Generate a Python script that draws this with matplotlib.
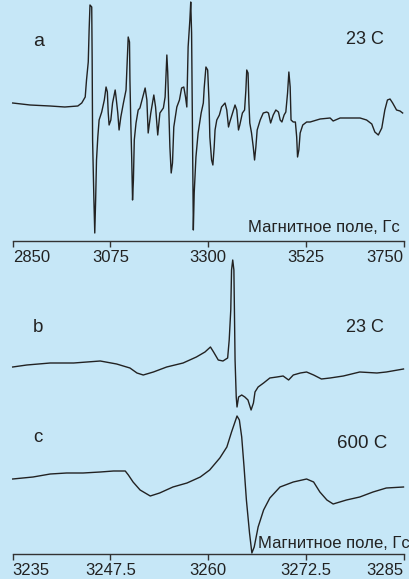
import matplotlib
matplotlib.use("Agg")
import matplotlib.pyplot as plt

# EPR spectra, field in G, intensity in arbitrary units
# panel a: wide sweep, 23 C
field_a = [2850, 2890, 2936, 2970, 3000, 3009, 3017, 3020, 3024, 3026, 3028, 3032,
           3033, 3034, 3037, 3039, 3041, 3043, 3046, 3049, 3055, 3061, 3065, 3068,
           3070, 3072, 3076, 3080, 3086, 3088, 3092, 3095, 3099, 3105, 3111, 3114,
           3116, 3119, 3120, 3122, 3124, 3126, 3128, 3130, 3134, 3139, 3143, 3155,
           3159, 3162, 3168, 3175, 3179, 3184, 3189, 3197, 3201, 3203, 3205, 3207,
           3210, 3212, 3215, 3218, 3221, 3228, 3234, 3239, 3244, 3248, 3251, 3254,
           3258, 3260, 3262, 3265, 3266, 3268, 3272, 3277, 3284, 3289, 3291, 3295,
           3299, 3302, 3304, 3308, 3311, 3314, 3316, 3320, 3326, 3331, 3339, 3343,
           3347, 3350, 3357, 3362, 3366, 3370, 3373, 3379, 3384, 3387, 3389, 3392,
           3394, 3396, 3400, 3404, 3407, 3410, 3413, 3420, 3427, 3435, 3439, 3444,
           3450, 3456, 3462, 3466, 3470, 3475, 3479, 3483, 3486, 3489, 3491, 3496,
           3501, 3504, 3506, 3509, 3512, 3518, 3527, 3535, 3558, 3581, 3588, 3604,
           3627, 3650, 3665, 3677, 3684, 3692, 3700, 3707, 3713, 3719, 3725, 3734,
           3742, 3748]
signal_a = [1, -1, -2, -3, -2, 1, 7, 24, 42, 74, 99, 97,
            44, -36, -96, -129, -96, -56, -33, -16, -8, 4, 17, 12,
            -9, -21, -16, 1, 14, 7, -9, -26, -13, 1, 14, 47,
            67, 62, 24, -19, -53, -96, -76, -36, -19, -6, -4, 16,
            4, -29, -9, 9, -3, -31, -9, -4, 7, 27, 49, 32,
            -13, -43, -69, -59, -23, -3, 4, 16, 17, 7, -3, 57,
            84, 102, 71, -86, -126, -89, -53, -29, -9, 1, 16, 37,
            34, 4, -33, -56, -61, -43, -26, -16, -11, -3, 1, -6,
            -23, -18, -8, -1, -6, -26, -21, -9, -6, 14, 34, 31,
            1, -19, -29, -43, -56, -43, -26, -16, -9, -8, -9, -19,
            -11, -6, -8, -16, -18, -11, -8, 11, 32, 17, -16, -18,
            -18, -33, -53, -46, -29, -21, -18, -18, -15, -14, -17, -14,
            -14, -14, -16, -20, -28, -31, -24, -6, 4, 5, 1, -6,
            -7, -9]

# panel b: narrow sweep, 23 C
field_b = [3235.0, 3236.8, 3239.8, 3242.8, 3246.2, 3248.3, 3250.0, 3250.9, 3251.7,
           3253.0, 3254.7, 3256.8, 3258.5, 3259.6, 3260.3, 3260.7, 3261.3, 3261.9,
           3262.5, 3262.7, 3262.9, 3263.0, 3263.15, 3263.3, 3263.45, 3263.6, 3263.7,
           3263.9, 3264.3, 3264.7, 3265.1, 3265.5, 3265.8, 3266.0, 3266.4, 3267.1,
           3267.9, 3268.8, 3269.6, 3270.3, 3270.9, 3271.8, 3272.6, 3273.5, 3274.5,
           3275.6, 3277.3, 3279.4, 3281.6, 3282.8, 3285.0]
signal_b = [-1, 1, 3, 3, 5, 2, -2, -7, -9,
            -6, -1, 3, 9, 14, 19, 14, 6, 5,
            8, 26, 56, 96, 106, 96, 6, -31, -41,
            -31, -29, -31, -34, -44, -37, -26, -21, -17,
            -12, -11, -10, -14, -9, -7, -6, -9, -13,
            -12, -10, -6, -7, -6, -3]

# panel c: narrow sweep, 600 C
field_c = [3235.0, 3237.6, 3239.8, 3241.9, 3244.0, 3246.2, 3247.9, 3249.4, 3249.8,
           3250.4, 3251.3, 3252.6, 3253.8, 3255.5, 3257.3, 3259.0, 3260.2, 3261.5,
           3262.4, 3263.0, 3263.7, 3264.0, 3264.3, 3264.6, 3264.9, 3265.3, 3265.6,
           3265.9, 3266.4, 3267.1, 3267.9, 3269.2, 3270.9, 3272.6, 3273.5, 3274.3,
           3275.2, 3276.0, 3277.7, 3279.4, 3281.1, 3282.8, 3285.0]
signal_c = [0, 2, 5, 6, 6, 7, 8, 8, 4,
            -3, -11, -17, -14, -8, -4, 2, 9, 21,
            32, 47, 63, 59, 42, 12, -21, -54, -74,
            -68, -48, -31, -19, -8, -3, 0, -3, -13,
            -21, -25, -21, -18, -13, -9, -8]

ticks_top = [2850, 3075, 3300, 3525, 3750]
ticks_bottom = [3235, 3247.5, 3260, 3272.5, 3285]
tick_labels_bottom = ["3235", "3247.5", "3260", "3272.5", "3285"]
field_label = "Магнитное поле, Гс"

BG = "#c6e7f7"
INK = "#222222"
W, H = 409, 579

plt.rcParams["font.family"] = ["Liberation Sans", "DejaVu Sans"]

fig = plt.figure(figsize=(W / 100, H / 100), dpi=100, facecolor=BG)


def px(x, y):
    return x / W, 1 - y / H


def style_axis(ax, ticks, labels):
    ax.set_facecolor("none")
    for s in ("left", "right", "top"):
        ax.spines[s].set_visible(False)
    ax.spines["bottom"].set_color("#333333")
    ax.spines["bottom"].set_linewidth(1.0)
    ax.set_yticks([])
    ax.set_xticks(ticks)
    ax.set_xticklabels(labels)
    ax.tick_params(axis="x", direction="out", length=4, width=1, color="#333333",
                   labelsize=12, labelcolor=INK, pad=2.5)
    tl = ax.get_xticklabels()
    tl[0].set_horizontalalignment("left")
    tl[-1].set_horizontalalignment("right")


# top panel
ax1 = fig.add_axes([12.7 / W, 1 - 240.5 / H, 390.8 / W, 240.5 / H])
ax1.plot(field_a, signal_a, color=INK, lw=1.0, clip_on=False)
ax1.set_xlim(2850, 3750)
ax1.set_ylim(-136.5, 104)
style_axis(ax1, ticks_top, [str(t) for t in ticks_top])

# bottom panel, b and c stacked
OFFSET_B = 188
OFFSET_C = 75
ax2 = fig.add_axes([12.7 / W, 1 - 554 / H, 390.8 / W, 304 / H])
ax2.plot(field_b, [v + OFFSET_B for v in signal_b], color=INK, lw=1.0, clip_on=False)
ax2.plot(field_c, [v + OFFSET_C for v in signal_c], color=INK, lw=1.0, clip_on=False)
ax2.set_xlim(3235, 3285)
ax2.set_ylim(0, 304)
style_axis(ax2, ticks_bottom, tick_labels_bottom)

# annotations
fig.text(*px(33, 41), "a", fontsize=14, color=INK, ha="left", va="center")
fig.text(*px(384, 40), "23 C", fontsize=13, color=INK, ha="right", va="center")
fig.text(*px(400, 227), field_label, fontsize=12, color=INK, ha="right", va="center")

fig.text(*px(33, 327), "b", fontsize=13.5, color=INK, ha="left", va="center")
fig.text(*px(384, 327), "23 C", fontsize=13, color=INK, ha="right", va="center")
fig.text(*px(33, 438), "c", fontsize=13.5, color=INK, ha="left", va="center")
fig.text(*px(387, 444), "600 C", fontsize=13.5, color=INK, ha="right", va="center")
fig.text(*px(410, 543), field_label, fontsize=12, color=INK, ha="right", va="center")

fig.savefig("out.png", dpi=100, facecolor=BG)
